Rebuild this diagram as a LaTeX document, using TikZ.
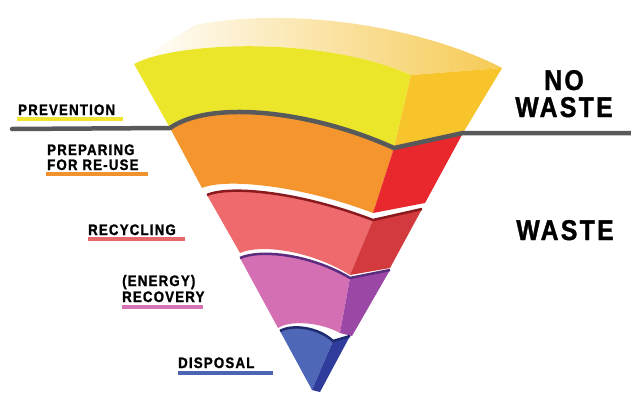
\documentclass[tikz,border=0pt]{standalone}
\usepackage{fontspec}
\newfontfamily\lblfont{Liberation Sans}[UprightFont={* Bold},FakeStretch=0.87,FakeBold=1.3,LetterSpace=8]

\definecolor{topgold}{RGB}{246,202,84}
\definecolor{yfront}{RGB}{236,230,43}
\definecolor{yside}{RGB}{248,196,43}
\definecolor{ofront}{RGB}{244,149,45}
\definecolor{oside}{RGB}{232,40,44}
\definecolor{rfront}{RGB}{239,106,108}
\definecolor{rside}{RGB}{211,58,62}
\definecolor{rdark}{RGB}{138,26,29}
\definecolor{pfront}{RGB}{213,111,179}
\definecolor{pside}{RGB}{154,71,165}
\definecolor{pdark}{RGB}{91,43,125}
\definecolor{bfront}{RGB}{78,104,183}
\definecolor{bside}{RGB}{47,60,155}
\definecolor{bdark}{RGB}{30,42,112}
\definecolor{linegray}{RGB}{88,89,91}
\definecolor{uyellow}{RGB}{239,229,46}
\definecolor{uorange}{RGB}{240,146,47}
\definecolor{ured}{RGB}{231,104,107}
\definecolor{upink}{RGB}{214,115,181}
\definecolor{ublue}{RGB}{77,100,178}

\begin{document}
\begin{tikzpicture}[x=1pt,y=-1pt,
  lbl/.style={anchor=base west,inner sep=0pt,font=\lblfont\fontsize{15.2}{16}\selectfont},
  big/.style={anchor=base,inner sep=0pt,font=\lblfont\fontsize{28.5}{30}\selectfont},
  uline/.style={line width=4pt},
  strip/.style={line width=2.5pt,line join=round},
  grayline/.style={line width=4.5pt,linegray,line cap=round,line join=round}]
\useasboundingbox (0,0) rectangle (631,394);

% top face
\shade[left color=white,right color=topgold] (134,64) .. controls (175,42) and (320,35) .. (411,75)
  -- (502,68) .. controls (430,30) and (300,5) .. (195,25) -- cycle;

% PREVENTION layer
\fill[yfront] (134,64) .. controls (175,42) and (320,35) .. (411,75) -- (394,148)
  .. controls (310,110) and (210,100) .. (170,128) -- cycle;
\fill[yside] (411,75) -- (502,68) -- (463,133) -- (394,148) -- cycle;

% PREPARING FOR RE-USE layer
\fill[ofront] (170,128) .. controls (210,100) and (310,110) .. (394,148) -- (373,213)
  .. controls (300,185) and (225,178) .. (202,188) -- cycle;
\fill[oside] (394,148) -- (463,133) -- (425,203) -- (373,213) -- cycle;

% RECYCLING layer
\fill[rfront] (207,195) .. controls (230,185) and (300,192) .. (373,220) -- (350,275)
  .. controls (310,250) and (260,244) .. (240,253) -- cycle;
\fill[rside] (373,220) -- (422,209) -- (390,268) -- (350,275) -- cycle;
\draw[strip,rdark] (207,195) .. controls (230,185) and (300,192) .. (373,220) -- (422,209);

% (ENERGY) RECOVERY layer
\fill[pfront] (240,258) .. controls (260,249) and (310,254) .. (350,278) -- (340,333)
  .. controls (320,322) and (290,320) .. (278,328) -- cycle;
\fill[pside] (350,278) -- (390,270) -- (352,336) -- (340,333) -- cycle;
\draw[strip,pdark] (240,258) .. controls (260,249) and (310,254) .. (350,278) -- (390,270);

% DISPOSAL layer
\fill[bfront] (280,331) .. controls (292,324) and (318,327) .. (333,341) -- (312,390) -- cycle;
\fill[bside] (333,341) -- (350,336) -- (320,392) -- (312,390) -- cycle;
\draw[strip,bdark] (280,331) .. controls (292,324) and (318,327) .. (333,341) -- (350,336);

% waste / no waste line
\draw[grayline] (12,129) -- (170,128) .. controls (210,100) and (310,110) .. (394,148)
  -- (463,133) -- (640,133);

% labels
\node[lbl] (prevention) at (18,115) {PREVENTION};
\draw[uline,uyellow] ([xshift=-1pt,yshift=-4pt]prevention.base west) -- ++(106,0);

\node[lbl] (preparing) at (47,155) {PREPARING};
\node[lbl] (reuse) at ([yshift=-15pt]preparing.base west) {FOR RE-USE};
\draw[uline,uorange] ([xshift=-1pt,yshift=-4pt]reuse.base west) -- ++(102,0);

\node[lbl] (recycling) at (88,235) {RECYCLING};
\draw[uline,ured] ([yshift=-4pt]recycling.base west) -- ++(97,0);

\node[lbl] (energy) at (122,286) {(ENERGY)};
\node[lbl] (recovery) at ([yshift=-16pt]energy.base west) {RECOVERY};
\draw[uline,upink] ([yshift=-5pt]recovery.base west) -- ++(81,0);

\node[lbl] (disposal) at (178,368) {DISPOSAL};
\draw[uline,ublue] ([yshift=-5pt]disposal.base west) -- ++(95,0);

\node[big] (no) at (564,90) {NO};
\node[big] (nowaste) at ([yshift=-27pt]no.base) {WASTE};
\node[big] (waste) at (565,240) {WASTE};
\end{tikzpicture}
\end{document}
